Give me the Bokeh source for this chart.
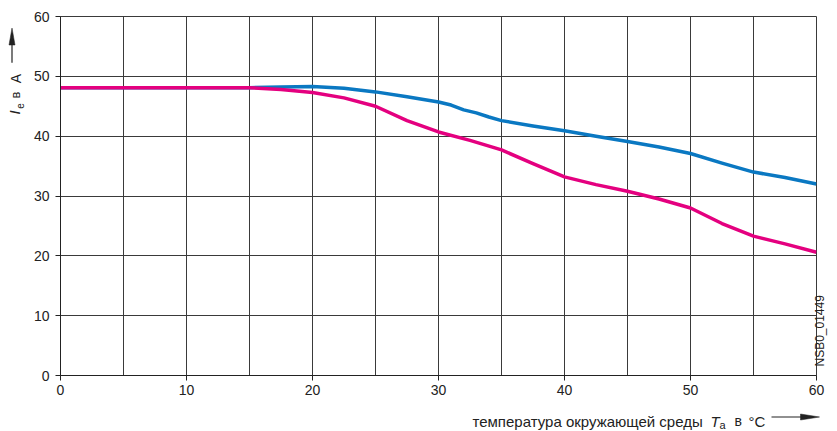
from bokeh.plotting import figure
from bokeh.models import FixedTicker, Label, Range1d, LinearAxis
from bokeh.layouts import column, row
from bokeh.embed import file_html
from bokeh.resources import INLINE
import math

# ---- data ----
x_ticks = [0, 10, 20, 30, 40, 50, 60]
y_ticks = [0, 10, 20, 30, 40, 50, 60]
x_grid = [0, 5, 10, 15, 20, 25, 30, 35, 40, 45, 50, 55, 60]

blue_x = [0, 5, 10, 15, 17.5, 20, 22.5, 25, 27.5, 30, 31, 32, 33, 34, 35,
          37.5, 40, 42.5, 45, 47.5, 50, 52.5, 55, 57.5, 60]
blue_y = [48.1, 48.1, 48.1, 48.1, 48.2, 48.3, 48.0, 47.4, 46.6, 45.7, 45.2, 44.4,
          43.9, 43.2, 42.6, 41.7, 40.9, 40.0, 39.1, 38.2, 37.1, 35.5, 34.0, 33.1, 32.0]

pink_x = [0, 5, 10, 15, 17.5, 20, 22.5, 25, 27.5, 30, 32.5, 35, 37.5, 40,
          42.5, 45, 47.5, 50, 52.5, 55, 57.5, 60]
pink_y = [48.1, 48.1, 48.1, 48.1, 47.8, 47.3, 46.4, 45.0, 42.6, 40.7, 39.3, 37.7,
          35.4, 33.2, 31.9, 30.8, 29.5, 28.0, 25.4, 23.3, 22.0, 20.6]

x_label_text = "температура окружающей среды"
y_label_parts = ["I", "e", "в", "A"]
drawing_id = "NSB0_01449"

BLUE = "#0a78c2"
PINK = "#e4007f"
GRID = "#3a3a3a"
INK = "#222222"
FONT = "Liberation Sans"

W, H = 837, 431
LEFT_W = 30
TOP_H = 403

# ---- main chart ----
p = figure(width=W - LEFT_W, height=TOP_H, output_backend="svg", toolbar_location=None,
           x_range=Range1d(0, 60), y_range=Range1d(0, 60),
           min_border_left=30, min_border_right=20, min_border_top=16, min_border_bottom=28)
p.outline_line_color = GRID

for ax in (p.xaxis[0], p.yaxis[0]):
    ax.axis_line_color = INK
    ax.major_tick_line_color = INK
    ax.major_tick_out = 5
    ax.major_tick_in = 0
    ax.minor_tick_line_color = None
    ax.major_label_text_font = FONT
    ax.major_label_text_font_size = "14px"
    ax.major_label_text_color = INK

p.xaxis.ticker = FixedTicker(ticks=x_ticks)
p.yaxis.ticker = FixedTicker(ticks=y_ticks)
p.xaxis.major_label_standoff = 4
p.yaxis.major_label_standoff = 6

p.xgrid.ticker = FixedTicker(ticks=x_grid)
p.ygrid.ticker = FixedTicker(ticks=y_ticks)
for g in (p.xgrid[0], p.ygrid[0]):
    g.grid_line_color = GRID
    g.grid_line_width = 1

p.line(blue_x, blue_y, line_color=BLUE, line_width=3.5, line_join="round")
p.line(pink_x, pink_y, line_color=PINK, line_width=3.5, line_join="round")

# drawing number on the right: a single rotated tick label on a bare axis
rax = LinearAxis(ticker=FixedTicker(ticks=[1.5]), major_label_overrides={1.5: drawing_id},
                 major_label_orientation=math.pi / 2,
                 axis_line_color=None, major_tick_line_color=None, minor_tick_line_color=None,
                 major_tick_out=0, major_tick_in=0, major_label_standoff=4,
                 major_label_text_font=FONT, major_label_text_font_size="12px",
                 major_label_text_color=INK)
p.add_layout(rax, "right")

# ---- left strip: y axis title ----
lf = figure(width=LEFT_W, height=TOP_H, output_backend="svg", toolbar_location=None,
            x_range=Range1d(0, LEFT_W), y_range=Range1d(TOP_H, 0),
            x_axis_type=None, y_axis_type=None, min_border=0,
            min_border_left=0, min_border_right=0, min_border_top=0, min_border_bottom=0)
lf.outline_line_color = None
lf.grid.visible = False
rot = math.pi / 2
common = dict(angle=rot, text_font=FONT, text_color=INK, text_baseline="alphabetic")
lf.add_layout(Label(x=14, y=110, text=y_label_parts[0], text_font_style="italic",
                    text_font_size="15px", **common))
lf.add_layout(Label(x=19.5, y=103.5, text=y_label_parts[1], text_font_size="10px", **common))
lf.add_layout(Label(x=15, y=92, text=y_label_parts[2], text_font_size="13px", **common))
lf.add_layout(Label(x=15, y=75, text=y_label_parts[3], text_font_size="14px", **common))
lf.line([11.5, 11.5], [52, 30], line_color=INK, line_width=1.2)
lf.patch([8.5, 14.5, 11.5], [32, 32, 13], fill_color=INK, line_color=INK, line_width=0.5)

# ---- bottom strip: x axis title ----
bf = figure(width=W, height=H - TOP_H, output_backend="svg", toolbar_location=None,
            x_range=Range1d(0, W), y_range=Range1d(H, TOP_H),
            x_axis_type=None, y_axis_type=None, min_border=0,
            min_border_left=0, min_border_right=0, min_border_top=0, min_border_bottom=0)
bf.outline_line_color = None
bf.grid.visible = False
hc = dict(text_font=FONT, text_color=INK, text_baseline="alphabetic")
bf.add_layout(Label(x=472, y=420.5, text=x_label_text, text_font_size="15px", **hc))
bf.add_layout(Label(x=710, y=420.5, text="T", text_font_style="italic",
                    text_font_size="15px", **hc))
bf.add_layout(Label(x=719, y=424, text="a", text_font_size="11px", **hc))
bf.add_layout(Label(x=734, y=420.5, text="в", text_font_size="14px", **hc))
bf.add_layout(Label(x=748, y=420.5, text="°C", text_font_size="15px", **hc))
bf.line([771, 802], [416.5, 416.5], line_color=INK, line_width=1.2)
bf.patch([800, 800, 819], [413.5, 419.5, 416.5], fill_color=INK, line_color=INK, line_width=0.5)

layout = column(row(lf, p), bf)
open("out.html", "w").write(file_html(layout, INLINE))
